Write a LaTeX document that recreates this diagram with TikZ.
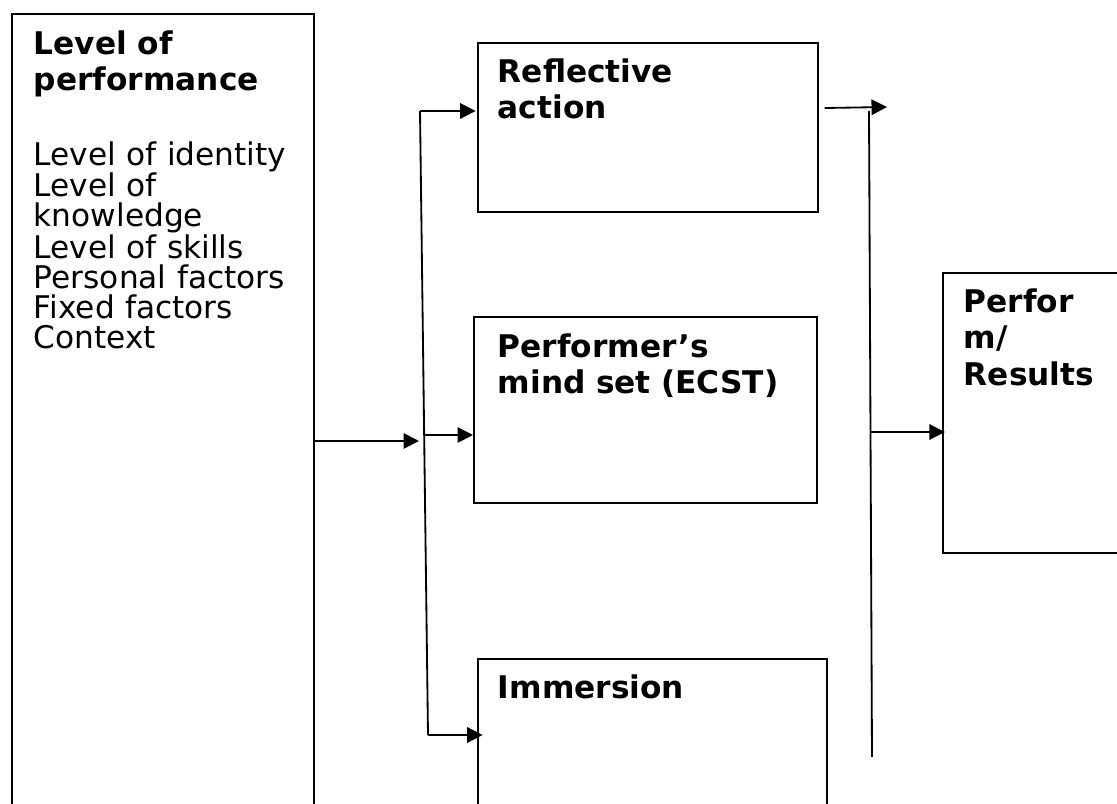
\documentclass[tikz,border=0pt]{standalone}
\usepackage{fontspec}
\setmainfont{DejaVu Sans}
\usetikzlibrary{arrows.meta}
\setlength{\lineskiplimit}{-20pt}

\begin{document}
\begin{tikzpicture}[
        x=0.025cm, y=-0.025cm,
        line width=1.3pt,
        arr/.style={draw, -{Triangle[length=11pt,width=11pt]}},
        box/.style={
                draw,
                anchor=north west,
                inner sep=0pt
            },
        head/.style={
                anchor=base west,
                inner sep=0pt,
                align=left,
                text width=9cm,
                font=\bfseries\fontsize{22.2pt}{26pt}\selectfont
            },
        list/.style={
                anchor=base west,
                inner sep=0pt,
                align=left,
                text width=7.5cm,
                font=\fontsize{22.2pt}{21.34pt}\selectfont
            }
    ]
    \clip (0,0) rectangle (1117,803);

    \node[box, minimum width=7.55cm, minimum height=20.5cm] (lvl) at (11,13) {};
    \node[box, minimum width=8.5cm, minimum height=4.225cm] (refl) at (477,42) {};
    \node[box, minimum width=8.575cm, minimum height=4.65cm] (mind) at (473,316) {};
    \node[box, minimum width=8.725cm, minimum height=4.5cm] (imm) at (477,658) {};
    \node[box, minimum width=5cm, minimum height=7cm] (res) at (942,272) {};

    \node[head] (lvlt) at ([shift={(22,41)}]lvl.north west) {Level of\\performance};
    \node[list] (lvll) at ([shift={(22,152)}]lvl.north west)
        {Level of identity\\Level of\\knowledge\\Level of skills\\Personal factors\\Fixed factors\\Context};
    \node[head] (reflt) at ([shift={(20,40)}]refl.north west) {Reflective\\action};
    \node[head] (mindt) at ([shift={(24,41)}]mind.north west) {Performer’s\\mind set (ECST)};
    \node[head] (immt) at ([shift={(20,40)}]imm.north west) {Immersion};
    \node[head] (rest) at ([shift={(21,40)}]res.north west) {Perfor\\m/\\Results};

    \coordinate (ltop) at (420,111);
    \coordinate (lmid) at (424,435);
    \coordinate (lbot) at (428,735);
    \coordinate (jin) at (419,441);
    \coordinate (rin) at (887,107);
    \coordinate (rtop) at (869,111);
    \coordinate (rmid) at (871,432);
    \coordinate (rbot) at (872,757);

    \draw[arr] (lvl.east |- jin) -- (jin);
    \draw (ltop) -- (lbot);
    \draw[arr] (ltop) -- ([xshift=-1pt]refl.west |- ltop);
    \draw[arr] (lmid) -- (mind.west |- lmid);
    \draw[arr] (lbot) -- ([xshift=4pt]imm.west |- lbot);

    \draw[arr] ([xshift=4pt]refl.east |- 0,108) -- (rin);
    \draw (rtop) -- (rbot);
    \draw[arr] (rmid) -- ([xshift=2pt]res.west |- rmid);
\end{tikzpicture}
\end{document}
